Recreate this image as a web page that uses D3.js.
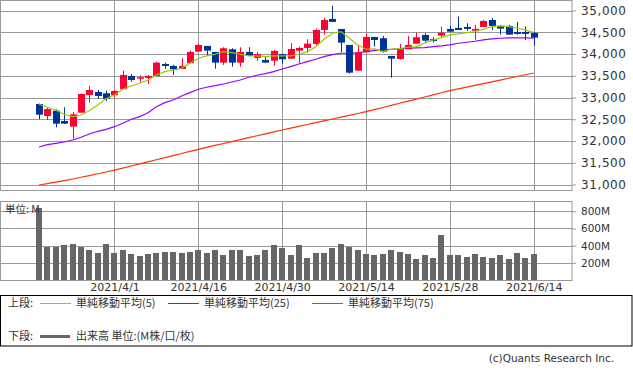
<!DOCTYPE html>
<html>
<head>
<meta charset="utf-8">
<script src="https://cdn.jsdelivr.net/npm/d3@7"></script>
<style>
body { margin: 0; background: #fff; }
svg { display: block; }
text { font-family: "DejaVu Sans", sans-serif; fill: #333; }
.jp { font-family: "Noto Sans CJK JP", sans-serif; }
</style>
</head>
<body>
<svg id="chart" width="633" height="373"></svg>
<script>
// trading days shown (one candle each)
const dates = [
  "2021/3/19","2021/3/22","2021/3/23","2021/3/24","2021/3/25","2021/3/26","2021/3/29","2021/3/30","2021/3/31",
  "2021/4/1","2021/4/5","2021/4/6","2021/4/7","2021/4/8","2021/4/9","2021/4/12","2021/4/13","2021/4/14","2021/4/15","2021/4/16",
  "2021/4/19","2021/4/20","2021/4/21","2021/4/22","2021/4/23","2021/4/26","2021/4/27","2021/4/28","2021/4/29","2021/4/30",
  "2021/5/3","2021/5/4","2021/5/5","2021/5/6","2021/5/7","2021/5/10","2021/5/11","2021/5/12","2021/5/13","2021/5/14",
  "2021/5/17","2021/5/18","2021/5/19","2021/5/20","2021/5/21","2021/5/24","2021/5/25","2021/5/26","2021/5/27","2021/5/28",
  "2021/6/1","2021/6/2","2021/6/3","2021/6/4","2021/6/7","2021/6/8","2021/6/9","2021/6/10","2021/6/11","2021/6/14"
];

const open = [32851,32575,32697,32460,32329,32651,33058,33127,33097,33051,
  33189,33495,33433,33449,33495,33771,33725,33656,33787,34054,
  34185,34047,33801,34109,33801,34047,33909,33863,33847,34001,
  33893,34077,34139,34231,34553,34806,34576,34208,33617,34040,
  34392,34362,33955,33886,34109,34238,34438,34339,34422,34576,
  34599,34622,34537,34622,34783,34645,34645,34507,34507,34484];
const high = [32860,32775,32729,32775,32667,33097,33265,33173,33157,33173,
  33617,33541,33511,33518,33824,33801,33748,33902,34077,34239,
  34185,34047,34155,34132,34155,34155,34047,33939,34093,34001,
  34247,34169,34339,34583,34829,35105,34576,34208,34185,34468,
  34392,34415,33955,34231,34415,34491,34477,34385,34629,34645,
  34859,34706,34668,34783,34829,34668,34668,34737,34629,34507];
const low = [32499,32483,32315,32390,32053,32651,32881,32973,32913,32989,
  33189,33364,33341,33311,33495,33663,33518,33656,33787,34054,
  33955,33663,33748,33709,33709,33955,33847,33801,33732,33771,
  33893,33787,34031,34201,34445,34737,34040,33548,33617,34040,
  34169,34031,33456,33870,34109,34238,34261,34261,34376,34514,
  34553,34530,34323,34622,34553,34445,34445,34445,34323,34192];
const close = [32605,32734,32398,32398,32614,33081,33173,33035,32973,33150,
  33518,33403,33465,33495,33801,33725,33649,33725,34047,34208,
  34077,33801,34132,33801,34047,33955,34001,33801,34070,33879,
  34116,34139,34238,34553,34783,34737,34261,33571,34040,34392,
  34323,34054,33893,34109,34208,34385,34307,34300,34491,34514,
  34553,34576,34576,34760,34645,34583,34445,34461,34461,34376];

// moving averages as drawn
const ma5 = [32844,32775,32713,32614,32559,32598,32697,32828,32973,33058,
  33189,33265,33327,33403,33518,33594,33633,33672,33787,33902,
  33955,33994,34054,34031,33994,33955,33955,33939,33955,33955,
  33955,33994,34054,34169,34339,34477,34514,34362,34208,34109,
  34116,34054,34109,34123,34155,34169,34247,34323,34376,34438,
  34461,34491,34514,34569,34629,34645,34629,34592,34553,34491];
const ma25 = [31862,31915,31947,31977,32023,32085,32161,32223,32269,32329,
  32407,32499,32559,32651,32789,32881,32943,33035,33111,33189,
  33235,33272,33311,33357,33403,33465,33511,33548,33594,33656,
  33709,33771,33824,33879,33939,33985,34017,34017,34024,34054,
  34077,34093,34109,34116,34132,34139,34146,34169,34185,34208,
  34247,34270,34293,34323,34346,34362,34369,34369,34369,34362];
const ma75 = [30988,31020,31056,31090,31126,31166,31205,31248,31288,31329,
  31378,31425,31474,31520,31569,31617,31664,31713,31760,31809,
  31852,31898,31942,31987,32030,32076,32120,32165,32208,32253,
  32296,32338,32380,32421,32464,32506,32548,32590,32632,32674,
  32722,32770,32819,32867,32916,32964,33012,33061,33109,33157,
  33198,33239,33280,33320,33361,33401,33442,33483,33523,33564];

// volume, millions
const volume = [839,384,384,408,419,384,350,315,419,315,
  350,303,280,303,315,326,326,315,326,350,
  315,350,291,350,350,280,291,350,408,373,
  291,408,256,315,315,373,419,384,350,303,
  291,303,350,326,303,245,291,256,524,291,
  291,268,303,268,256,291,245,315,256,303];

const dateTicks = ["2021/4/1","2021/4/16","2021/4/30","2021/5/14","2021/5/28","2021/6/14"];
const priceTicks = [31000,31500,32000,32500,33000,33500,34000,34500,35000];
const volumeTicks = [200,400,600,800];

const upColor = "#ff0033", downColor = "#003399";
const gridColor = "#999";

const svg = d3.select("#chart");
const plotRight = 572;

const x = d3.scalePoint().domain(dates).range([39, 533.7]);
const y = d3.scaleLinear().domain([31000, 35000]).range([184.5, 10.5]);
const yv = d3.scaleLinear().domain([0, 800]).range([280, 211.3]);

const px = v => Math.round(v) + 0.5;

// ---- grid
const grid = svg.append("g").attr("stroke", gridColor).attr("stroke-width", 1);
grid.selectAll(".hp").data(priceTicks).enter().append("line")
  .attr("x1", 0).attr("x2", plotRight)
  .attr("y1", d => px(y(d))).attr("y2", d => px(y(d)));
grid.selectAll(".hv").data(volumeTicks).enter().append("line")
  .attr("x1", 0).attr("x2", plotRight)
  .attr("y1", d => px(yv(d))).attr("y2", d => px(yv(d)));
grid.selectAll(".vp").data(dateTicks).enter().append("line")
  .attr("x1", d => px(x(d))).attr("x2", d => px(x(d)))
  .attr("y1", 0).attr("y2", 190);
grid.selectAll(".vv").data(dateTicks).enter().append("line")
  .attr("x1", d => px(x(d))).attr("x2", d => px(x(d)))
  .attr("y1", 201).attr("y2", 280);

// frames
svg.append("rect").attr("x", 0.5).attr("y", 0.5).attr("width", plotRight - 0.5).attr("height", 190)
  .attr("fill", "none").attr("stroke", gridColor);
svg.append("rect").attr("x", 0.5).attr("y", 201.5).attr("width", plotRight - 0.5).attr("height", 79)
  .attr("fill", "none").attr("stroke", gridColor);

// ---- axes
const yAxis = svg.append("g").attr("transform", `translate(${plotRight},0)`)
  .call(d3.axisRight(y).tickValues(priceTicks).tickFormat(d3.format(",")).tickSize(4).tickPadding(5));
yAxis.select(".domain").remove();
yAxis.selectAll("line").attr("stroke", gridColor);
yAxis.selectAll("text").style("font-size", "12px").attr("fill", "#333").attr("letter-spacing", "0.6px");

const vAxis = svg.append("g").attr("transform", `translate(${plotRight},0)`)
  .call(d3.axisRight(yv).tickValues(volumeTicks).tickFormat(d => d + "M").tickSize(4).tickPadding(5));
vAxis.select(".domain").remove();
vAxis.selectAll("line").attr("stroke", gridColor);
vAxis.selectAll("text").style("font-size", "10.5px").attr("fill", "#333");

const xAxis = svg.append("g").attr("transform", "translate(0,280)")
  .call(d3.axisBottom(x).tickValues(dateTicks).tickSize(0).tickPadding(3));
xAxis.select(".domain").remove();
xAxis.selectAll("text").style("font-size", "11px").attr("fill", "#333");

// ---- moving averages
const idx = d3.range(dates.length);
const maLine = arr => d3.line().x(i => x(dates[i])).y(i => y(arr[i]))(idx);
svg.append("path").attr("d", maLine(ma75)).attr("fill", "none").attr("stroke", "#ff3300").attr("stroke-width", 1.2);
svg.append("path").attr("d", maLine(ma25)).attr("fill", "none").attr("stroke", "#9900ff").attr("stroke-width", 1.2);

// ---- candles
const candles = svg.append("g");
candles.selectAll("line").data(idx).enter().append("line")
  .attr("x1", i => px(x(dates[i]))).attr("x2", i => px(x(dates[i])))
  .attr("y1", i => y(high[i])).attr("y2", i => y(low[i]))
  .attr("stroke", i => close[i] >= open[i] ? upColor : downColor);
candles.selectAll("rect").data(idx).enter().append("rect")
  .attr("x", i => Math.round(x(dates[i])) - 3).attr("width", 7)
  .attr("y", i => y(Math.max(open[i], close[i])))
  .attr("height", i => Math.max(1.5, Math.abs(y(open[i]) - y(close[i]))))
  .attr("fill", i => close[i] >= open[i] ? upColor : downColor);

svg.append("path").attr("d", maLine(ma5)).attr("fill", "none").attr("stroke", "#99cc00").attr("stroke-width", 1.2);

// ---- volume
svg.append("g").selectAll("rect").data(idx).enter().append("rect")
  .attr("x", i => Math.round(x(dates[i])) - 3).attr("width", 6)
  .attr("y", i => yv(volume[i]))
  .attr("height", i => yv(0) - yv(volume[i]))
  .attr("fill", "#666");

svg.append("text").attr("class", "jp").attr("x", 5).attr("y", 213)
  .style("font-size", "10.5px").text("単位: M");

// ---- legend
svg.append("rect").attr("x", 0.5).attr("y", 295.5).attr("width", 631.5).attr("height", 50.5)
  .attr("fill", "none").attr("stroke", "#000");

const legendItems = [
  { label: "単純移動平均(5)", color: "#99cc00", x0: 40 },
  { label: "単純移動平均(25)", color: "#9900ff", x0: 168 },
  { label: "単純移動平均(75)", color: "#ff3300", x0: 312 }
];
const lg = svg.append("g");
lg.append("text").attr("class", "jp").attr("x", 8).attr("y", 307).style("font-size", "11px").text("上段:");
lg.append("text").attr("class", "jp").attr("x", 8).attr("y", 340).style("font-size", "11px").text("下段:");
legendItems.forEach(d => {
  lg.append("line").attr("x1", d.x0).attr("x2", d.x0 + 31).attr("y1", 303.5).attr("y2", 303.5)
    .attr("stroke", d.color).attr("stroke-width", 1);
  lg.append("text").attr("class", "jp").attr("x", d.x0 + 36).attr("y", 307)
    .style("font-size", "11px").text(d.label);
});
lg.append("line").attr("x1", 40).attr("x2", 70).attr("y1", 336.5).attr("y2", 336.5)
  .attr("stroke", "#666").attr("stroke-width", 3);
lg.append("text").attr("class", "jp").attr("x", 76).attr("y", 340)
  .style("font-size", "11px").text("出来高 単位:(M株/口/枚)");

svg.append("text").attr("x", 614).attr("y", 362).attr("text-anchor", "end")
  .style("font-size", "10.5px").attr("fill", "#666").text("(c)Quants Research Inc.");
</script>
</body>
</html>
